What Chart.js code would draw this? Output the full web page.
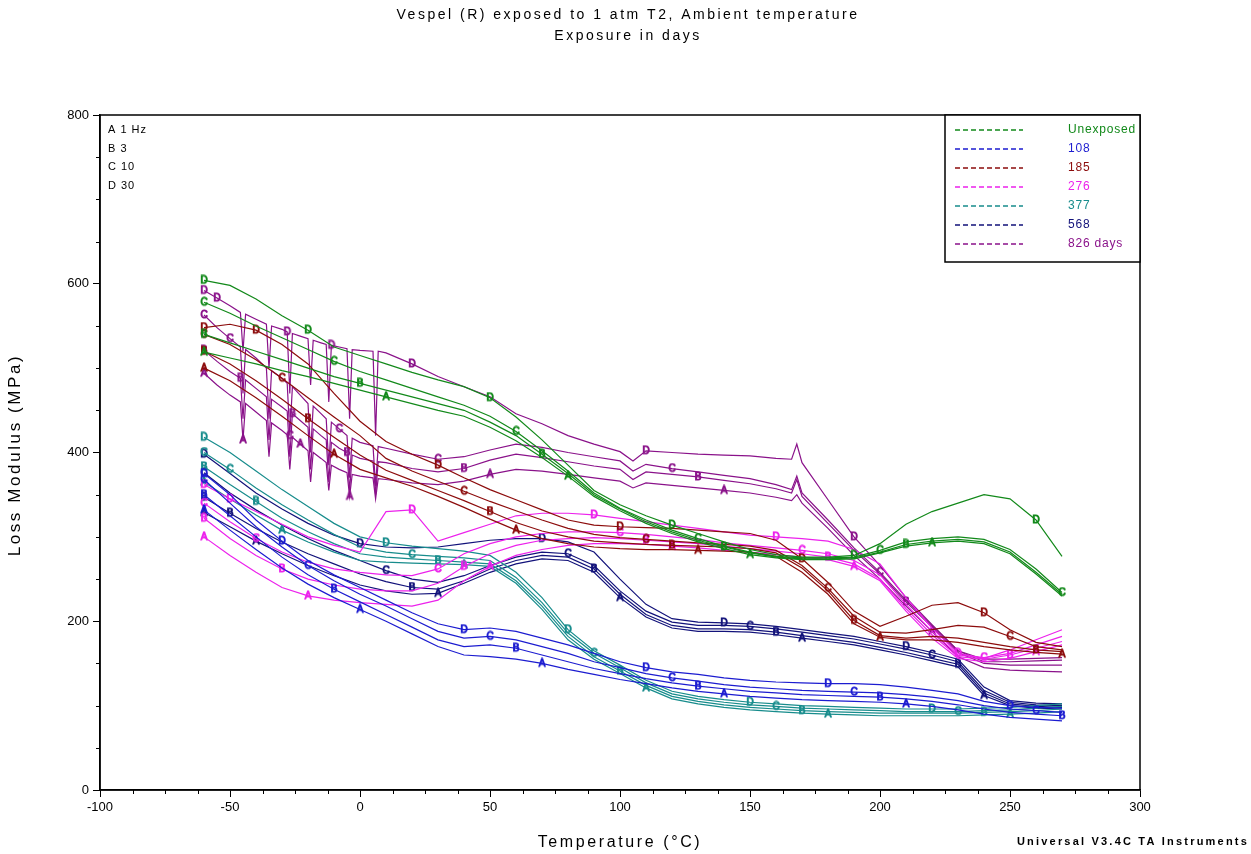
<!DOCTYPE html>
<html>
<head>
<meta charset="utf-8">
<script src="https://cdn.jsdelivr.net/npm/chart.js@4/dist/chart.umd.min.js"></script>
<style>
  html, body { margin: 0; padding: 0; background: #fff; }
  #wrap { width: 1251px; height: 854px; }
</style>
</head>
<body>
<div id="wrap"><canvas id="dmaChart" width="1251" height="854"></canvas></div>
<script>
// ===== DATA =====
const temps = [-60,-50,-40,-30,-20,-10,0,10,20,30,40,50,60,70,80,90,100,110,120,130,140,150,160,170,180,190,200,210,220,230,240,250,260,270];
// 826 days runs have narrow spikes below 10 °C, so they get their own temperature list
const tempsSpiky = [-60,-55,-50,-46,-45,-44,-40,-36,-35,-34,-30,-28,-27,-26,-23,-20,-19,-18,-15,-13,-12,-11,-8,-5,-4,-3,0,5,6,7,10,20,30,40,50,60,70,80,90,100,105,110,120,130,140,150,160,166,168,170,180,190,200,210,220,230,240,250,260,270];

const freqLetters = ['A', 'B', 'C', 'D'];
const freqNotes = ['A 1 Hz', 'B 3', 'C 10', 'D 30'];

// Unexposed
const unexposedA = [519,512,505,497,490,482,474,466,458,450,443,430,414,394,372,348,331,316,304,294,286,279,275,273,273,274,281,289,293,295,292,280,256,230];
const unexposedB = [540,530,520,510,500,490,482,474,466,458,450,436,420,398,375,350,333,318,306,296,288,281,276,274,274,275,282,291,295,297,294,282,258,232];
const unexposedC = [578,565,550,536,522,508,496,486,476,466,456,443,425,402,378,352,334,320,308,298,289,282,277,275,275,276,284,294,298,300,297,285,262,234];
const unexposedD = [604,598,582,562,545,525,515,505,495,486,478,465,442,415,385,355,338,325,314,304,294,285,279,276,276,278,292,315,330,340,350,345,320,277];

// 108 days
const days108A = [332,308,285,263,244,228,214,200,185,170,160,158,155,150,143,137,131,126,121,117,114,111,109,107,106,105,104,102,99,95,90,86,84,82];
const days108B = [350,325,300,276,255,238,223,208,193,178,170,172,168,160,152,144,138,132,127,123,120,117,115,113,112,111,110,108,105,101,96,92,90,88];
const days108C = [368,340,312,288,266,248,232,218,203,188,180,182,178,170,162,152,145,138,133,129,125,122,120,118,117,116,115,113,110,106,100,96,94,92];
const days108D = [375,350,320,295,272,255,240,225,210,197,190,192,188,180,172,162,152,145,140,137,133,130,128,127,126,126,125,122,118,114,105,100,98,97];

// 185 days
const days185A = [500,485,465,443,420,398,380,370,360,348,335,321,308,298,292,288,286,285,285,284,283,282,277,258,232,197,181,178,178,175,170,166,163,161];
const days185B = [520,505,485,463,440,418,397,379,367,355,343,330,317,307,300,295,293,291,290,289,288,286,281,263,236,201,183,180,182,180,175,170,166,164];
const days185C = [540,528,510,488,465,442,420,393,378,366,354,342,331,320,310,303,299,297,295,293,291,289,284,266,239,206,187,186,190,195,193,182,170,166];
const days185D = [548,552,545,528,505,470,437,413,398,385,370,356,344,332,320,314,312,311,310,308,306,304,296,274,246,212,194,206,219,222,210,190,175,170];

// 276 days
const days276A = [300,278,258,240,230,225,222,220,218,225,248,265,278,285,290,292,292,291,289,287,284,282,279,276,273,265,248,212,180,156,152,156,164,172];
const days276B = [322,298,278,262,250,243,238,236,236,245,265,280,290,296,298,299,298,296,294,292,289,286,283,280,276,268,250,215,184,158,155,160,168,176];
const days276C = [340,318,298,282,270,262,258,255,254,262,280,292,300,304,306,306,305,303,300,297,293,290,287,284,280,272,255,220,188,160,157,162,172,182];
const days276D = [362,345,330,315,300,290,282,330,332,295,305,315,325,328,328,326,322,318,314,310,306,302,300,298,295,285,268,228,192,162,156,166,178,190];

// 377 days
const days377A = [365,345,326,308,294,282,272,270,269,268,267,265,245,214,178,155,138,121,108,102,98,95,93,91,90,89,88,88,88,88,89,90,91,93];
const days377B = [383,362,342,322,306,292,280,276,274,272,270,268,248,218,182,158,141,124,111,105,101,98,96,94,93,92,91,91,91,91,92,93,94,96];
const days377C = [400,380,358,338,320,303,288,282,279,277,275,272,252,222,186,162,145,127,114,108,104,101,99,97,96,95,94,93,93,93,94,95,97,99];
const days377D = [418,400,378,356,336,316,300,293,289,286,283,278,258,228,190,165,148,130,117,111,107,104,102,100,99,98,97,96,96,96,97,98,100,102];

// 568 days
const days568A = [329,312,295,280,266,254,243,236,232,233,245,258,268,274,272,258,228,205,192,188,188,187,184,180,176,172,166,160,153,146,112,100,97,96];
const days568B = [347,328,310,294,280,268,256,247,240,238,248,262,272,278,276,262,232,208,195,191,191,190,187,183,179,175,169,163,156,149,115,102,99,98];
const days568C = [376,352,332,314,298,284,272,260,250,246,254,266,276,282,280,266,236,212,199,195,195,194,191,187,183,179,173,167,160,152,118,104,101,100];
const days568D = [398,375,352,333,316,302,292,288,287,288,292,296,298,298,294,282,250,220,203,199,198,197,194,190,186,182,176,170,163,155,122,106,103,102];

// 826 days (on tempsSpiky)
const days826A = [494,480,468,460,415,458,448,438,395,435,426,421,380,418,410,402,365,400,393,388,355,385,380,376,348,374,372,370,345,369,368,364,362,366,374,380,378,374,370,366,358,364,361,358,355,352,347,343,350,340,310,278,250,218,188,158,145,142,141,140];
const days826B = [521,508,496,488,440,486,476,466,415,463,454,449,395,446,438,430,380,428,420,415,365,412,405,400,355,397,393,390,350,389,388,381,377,381,391,398,394,389,384,380,368,377,374,371,367,363,357,352,368,348,316,284,256,223,193,163,150,148,148,148];
const days826C = [563,548,535,525,470,522,512,500,440,497,488,482,420,478,468,458,400,455,446,440,385,436,428,420,370,417,412,408,360,407,405,398,392,395,403,410,406,400,395,390,378,386,381,377,373,369,362,356,372,352,320,287,258,225,195,165,155,155,156,157];
const days826D = [592,583,574,566,520,564,558,552,500,550,546,543,470,541,538,535,480,533,530,528,460,527,525,523,440,522,521,520,420,520,518,505,490,478,466,446,434,420,410,401,390,402,400,398,397,396,393,392,410,388,344,300,266,228,196,165,152,152,153,154];

const groups = [
    { name: 'Unexposed', color: '#12891a', x: temps, lines: [unexposedA, unexposedB, unexposedC, unexposedD] },
    { name: '108',       color: '#1c1cd0', x: temps, lines: [days108A, days108B, days108C, days108D] },
    { name: '185',       color: '#8c0c0c', x: temps, lines: [days185A, days185B, days185C, days185D] },
    { name: '276',       color: '#ec22ec', x: temps, lines: [days276A, days276B, days276C, days276D] },
    { name: '377',       color: '#178c8c', x: temps, lines: [days377A, days377B, days377C, days377D] },
    { name: '568',       color: '#12127a', x: temps, lines: [days568A, days568B, days568C, days568D] },
    { name: '826 days',  color: '#8a128a', x: tempsSpiky, lines: [days826A, days826B, days826C, days826D] }
];

const FONT = '"Liberation Sans", Arial, sans-serif';

// ===== HELPERS =====
function letterGlyph(letter, color) {
    const c = document.createElement('canvas');
    c.width = 10;
    c.height = 12;
    const g = c.getContext('2d');
    g.strokeStyle = color;
    g.lineWidth = 1;
    g.font = '10px ' + FONT;
    g.textAlign = 'center';
    g.textBaseline = 'middle';
    g.strokeText(letter, 5, 6.5);
    return c;
}

function buildDatasets() {
    const out = [];
    groups.forEach((grp, gi) => {
        grp.lines.forEach((vals, li) => {
            const step = grp.x === tempsSpiky ? 10 : 7;
            out.push({
                label: grp.name + ' ' + freqLetters[li],
                data: vals.map((v, i) => ({ x: grp.x[i], y: v })),
                borderColor: grp.color,
                backgroundColor: grp.color,
                borderWidth: 1.2,
                fill: false,
                tension: 0,
                pointStyle: letterGlyph(freqLetters[li], grp.color),
                pointRadius: ctx => (ctx.dataIndex === 0 || (ctx.dataIndex + li + gi) % step === 0) ? 3 : 0
            });
        });
    });
    return out;
}

function spacedText(ctx, text, x, y, spacing) {
    ctx.letterSpacing = spacing;
    ctx.fillText(text, x, y);
    ctx.letterSpacing = '0px';
}

// ===== DECORATION PLUGIN =====
const decorPlugin = {
    id: 'decor',
    afterDraw(chart) {
        const ctx = chart.ctx;
        const a = chart.chartArea;
        const xs = chart.scales.x;
        const ys = chart.scales.y;
        ctx.save();

        // frame
        ctx.strokeStyle = '#000';
        ctx.lineWidth = 1.5;
        ctx.strokeRect(a.left, a.top, a.right - a.left, a.bottom - a.top);

        // minor ticks
        ctx.lineWidth = 1;
        for (let v = -100; v <= 300; v += 12.5) {
            if (v % 50 === 0) continue;
            const px = Math.round(xs.getPixelForValue(v)) + 0.5;
            ctx.beginPath();
            ctx.moveTo(px, a.bottom);
            ctx.lineTo(px, a.bottom + 4);
            ctx.stroke();
        }
        for (let v = 0; v <= 800; v += 50) {
            if (v % 200 === 0) continue;
            const py = Math.round(ys.getPixelForValue(v)) + 0.5;
            ctx.beginPath();
            ctx.moveTo(a.left - 4, py);
            ctx.lineTo(a.left, py);
            ctx.stroke();
        }

        // title
        ctx.fillStyle = '#000';
        ctx.textAlign = 'center';
        ctx.textBaseline = 'middle';
        ctx.font = '14px ' + FONT;
        spacedText(ctx, 'Vespel (R) exposed to 1 atm T2, Ambient temperature', 628, 15, '2.5px');
        spacedText(ctx, 'Exposure in days', 628, 36, '2.5px');

        // axis titles
        ctx.font = '16px ' + FONT;
        spacedText(ctx, 'Temperature (°C)', 620, 843, '2.6px');
        ctx.save();
        ctx.translate(15, 455);
        ctx.rotate(-Math.PI / 2);
        ctx.font = '17px ' + FONT;
        spacedText(ctx, 'Loss Modulus (MPa)', 0, 0, '2.6px');
        ctx.restore();

        // frequency note
        ctx.textAlign = 'left';
        ctx.font = '11px ' + FONT;
        freqNotes.forEach((t, i) => spacedText(ctx, t, a.left + 8, 130 + i * 18.5, '1px'));

        // legend box
        const lx = 945, ly = a.top, lw = a.right - 945, lh = 147;
        ctx.fillStyle = '#fff';
        ctx.fillRect(lx, ly, lw, lh);
        ctx.strokeStyle = '#000';
        ctx.lineWidth = 1.5;
        ctx.strokeRect(lx, ly, lw, lh);
        ctx.font = '12px ' + FONT;
        groups.forEach((grp, i) => {
            const y = 130 + i * 19;
            ctx.strokeStyle = grp.color;
            ctx.lineWidth = 1.3;
            ctx.setLineDash([5, 3]);
            ctx.beginPath();
            ctx.moveTo(955, y);
            ctx.lineTo(1023, y);
            ctx.stroke();
            ctx.setLineDash([]);
            ctx.fillStyle = grp.color;
            spacedText(ctx, grp.name, 1068, y, '0.8px');
        });

        // footer
        ctx.fillStyle = '#000';
        ctx.textAlign = 'right';
        ctx.font = 'bold 11px "Liberation Sans Narrow", ' + FONT;
        spacedText(ctx, 'Universal V3.4C TA Instruments', 1249, 842, '2.2px');
        ctx.restore();
    }
};

// ===== CHART =====
new Chart(document.getElementById('dmaChart').getContext('2d'), {
    type: 'line',
    data: { datasets: buildDatasets() },
    options: {
        responsive: false,
        animation: false,
        parsing: false,
        layout: { padding: { top: 115, right: 111, left: 0, bottom: 0 } },
        plugins: {
            legend: { display: false },
            tooltip: { enabled: false },
            title: { display: false }
        },
        scales: {
            x: {
                type: 'linear',
                min: -100,
                max: 300,
                afterFit: s => { s.height = 64; },
                ticks: {
                    stepSize: 50,
                    color: '#000',
                    padding: 3,
                    maxRotation: 0,
                    font: { family: FONT, size: 13 }
                },
                grid: { drawOnChartArea: false, drawTicks: true, tickLength: 7, color: '#000' },
                border: { display: true, color: '#000', width: 1.5 },
                title: { display: false }
            },
            y: {
                type: 'linear',
                min: 0,
                max: 800,
                afterFit: s => { s.width = 100; },
                ticks: {
                    stepSize: 200,
                    color: '#000',
                    padding: 4,
                    font: { family: FONT, size: 13 }
                },
                grid: { drawOnChartArea: false, drawTicks: true, tickLength: 7, color: '#000' },
                border: { display: true, color: '#000', width: 1.5 },
                title: { display: false }
            }
        }
    },
    plugins: [decorPlugin]
});
</script>
</body>
</html>
